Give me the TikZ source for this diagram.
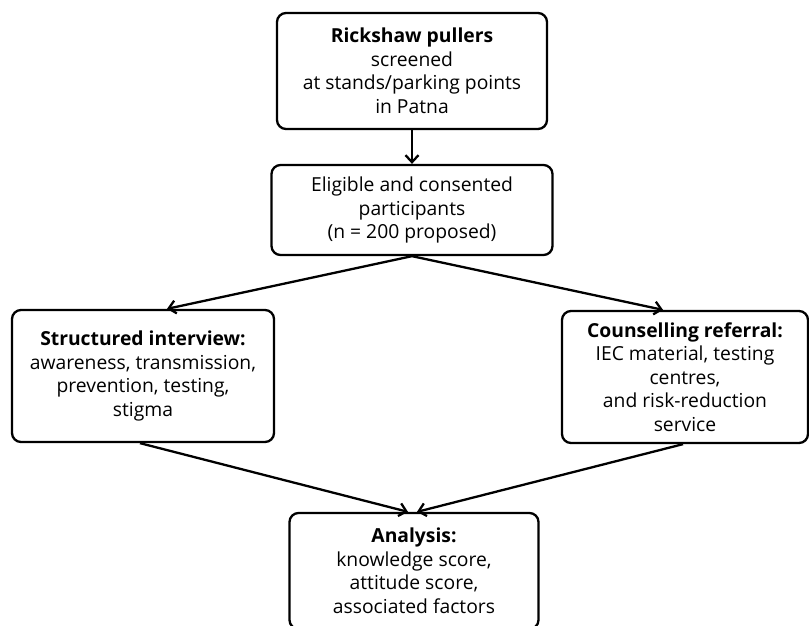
\documentclass[tikz,border=0pt]{standalone}
\usepackage{fontspec}
\setmainfont{Open Sans}
\usetikzlibrary{arrows.meta}
\tikzset{
  flowbox/.style={draw, line width=2.3pt, rounded corners=9pt, align=center, inner sep=0pt,
    font=\fontsize{19.3}{23.5}\selectfont},
  flowarrow/.style={-{Straight Barb[length=7pt,width=13pt]}, line width=2.3pt}
}

\begin{document}
\begin{tikzpicture}[x=1pt,y=-1pt]
  \useasboundingbox (0,0) rectangle (809,625);
  % boxes
  \node[flowbox, minimum width=270, minimum height=116] (screen) at (412,71)
    {\textbf{Rickshaw pullers}\\screened\\at stands/parking points\\in Patna};
  \node[flowbox, minimum width=281, minimum height=90] (eligible) at (412,210)
    {Eligible and consented\\participants\\(n = 200 proposed)};
  \node[flowbox, minimum width=262, minimum height=132] (interview) at (143,376)
    {\textbf{Structured interview:}\\awareness, transmission,\\prevention, testing,\\stigma};
  \node[flowbox, minimum width=246, minimum height=132] (referral) at (685,377)
    {\textbf{Counselling referral:}\\IEC material, testing\\centres,\\and risk-reduction\\service};
  \node[flowbox, minimum width=249, minimum height=116] (analysis) at (414,571)
    {\textbf{Analysis:}\\knowledge score,\\attitude score,\\associated factors};
  % connectors
  \draw[flowarrow] (screen.south) -- (eligible.north);
  \draw[flowarrow] (eligible.south) -- ([xshift=24pt]interview.north);
  \draw[flowarrow] (eligible.south) -- ([xshift=-22pt]referral.north);
  \draw[flowarrow] ([xshift=-3pt]interview.south) -- ([xshift=-6pt]analysis.north);
  \draw[flowarrow] ([xshift=-2pt]referral.south) -- ([xshift=3pt]analysis.north);
\end{tikzpicture}
\end{document}
